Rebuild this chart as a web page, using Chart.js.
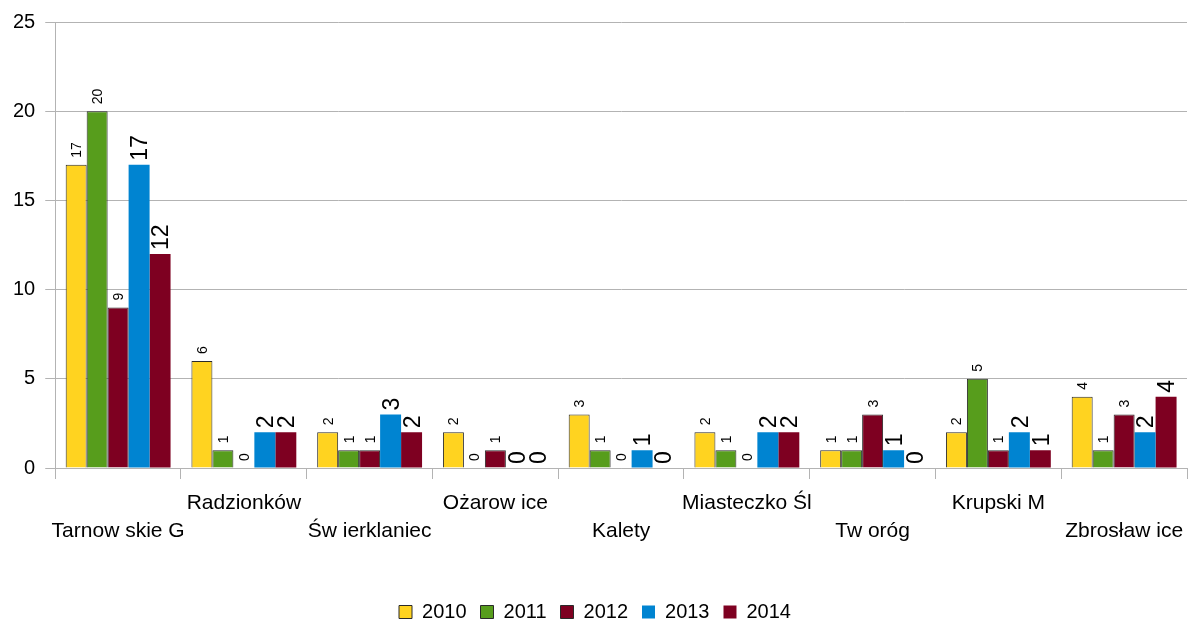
<!DOCTYPE html>
<html>
<head>
<meta charset="utf-8">
<script src="https://cdn.jsdelivr.net/npm/chart.js@4.4.1/dist/chart.umd.min.js"></script>
<style>
    html, body { margin: 0; padding: 0; background: #fff; }
    #wrap { width: 1188px; height: 622px; }
</style>
</head>
<body>
<div id="wrap"><canvas id="myChart"></canvas></div>
<script>
/**
 * Data
 */

var gminy = ['Tarnow skie G', 'Radzionków', 'Św ierklaniec', 'Ożarow ice', 'Kalety', 'Miasteczko Śl', 'Tw oróg', 'Krupski M', 'Zbrosław ice'];
var lata = ['2010', '2011', '2012', '2013', '2014'];

var v2010 = [17, 6, 2, 2, 3, 2, 1, 2, 4];
var v2011 = [20, 1, 1, 0, 1, 1, 1, 5, 1];
var v2012 = [9, 0, 1, 1, 0, 0, 3, 1, 3];
var v2013 = [17, 2, 3, 0, 1, 2, 1, 2, 2];
var v2014 = [12, 2, 2, 0, 0, 2, 0, 1, 4];

var yMin = 0;
var yMax = 25;
var yStep = 5;

var fontName = '"Liberation Sans", Arial, sans-serif';

/**
 * Rotated value labels above the bars
 */

var valueLabels = {
    id: 'valueLabels',
    afterDatasetsDraw: function(chart) {
        var ctx = chart.ctx;
        chart.data.datasets.forEach(function(ds, i) {
            var meta = chart.getDatasetMeta(i);
            var size = ds.labelSize;
            var capH = size * 0.716;
            meta.data.forEach(function(bar, j) {
                ctx.save();
                ctx.translate(bar.x, bar.y - ds.labelGap);
                ctx.rotate(-Math.PI / 2);
                ctx.font = size + 'px ' + fontName;
                ctx.fillStyle = '#000';
                ctx.textAlign = 'left';
                ctx.textBaseline = 'alphabetic';
                ctx.fillText(String(ds.data[j]), 0, capH / 2);
                ctx.restore();
            });
        });
    }
};

var makeSet = function(label, data, color, border, labelSize, labelGap) {
    return {
        label: label,
        data: data,
        backgroundColor: color,
        borderColor: border ? '#2a2a2a' : color,
        borderWidth: border ? 1 : 0,
        categoryPercentage: 0.834,
        barPercentage: 1.0,
        labelSize: labelSize,
        labelGap: labelGap
    };
};

var ctx = document.getElementById('myChart').getContext('2d');
var chart = new Chart(ctx, {
    type: 'bar',
    data: {
        labels: gminy,
        datasets: [
            makeSet(lata[0], v2010, '#ffd320', true, 14, 7),
            makeSet(lata[1], v2011, '#579d1c', true, 14, 7),
            makeSet(lata[2], v2012, '#7e0021', true, 14, 7),
            makeSet(lata[3], v2013, '#0084d1', false, 23, 4),
            makeSet(lata[4], v2014, '#7e0021', false, 23, 4)
        ]
    },
    plugins: [valueLabels],
    options: {
        responsive: true,
        maintainAspectRatio: false,
        animation: false,
        layout: {
            padding: { left: 3, right: 1, top: 22, bottom: -10 }
        },
        plugins: {
            tooltip: { enabled: false },
            legend: {
                position: 'bottom',
                labels: {
                    boxWidth: 13,
                    boxHeight: 13,
                    padding: 14,
                    color: '#000',
                    font: { family: fontName, size: 20 }
                }
            }
        },
        scales: {
            x: {
                grid: {
                    offset: true,
                    drawOnChartArea: false,
                    tickLength: 11,
                    color: '#b3b3b3'
                },
                border: { color: '#b3b3b3' },
                ticks: {
                    autoSkip: false,
                    maxRotation: 0,
                    padding: 10,
                    color: '#000',
                    font: { family: fontName, size: 21, lineHeight: 1.333 },
                    callback: function(value, index) {
                        var name = gminy[index];
                        return index % 2 == 0 ? ['', name] : name;
                    }
                },
                afterFit: function(scale) {
                    scale.height = 120;
                    scale.paddingRight = 0;
                }
            },
            y: {
                min: yMin,
                max: yMax,
                grid: {
                    color: '#b3b3b3',
                    tickLength: 10
                },
                border: { color: '#b3b3b3' },
                ticks: {
                    stepSize: yStep,
                    padding: 10,
                    color: '#000',
                    font: { family: fontName, size: 20 }
                }
            }
        }
    }
});
</script>
</body>
</html>
